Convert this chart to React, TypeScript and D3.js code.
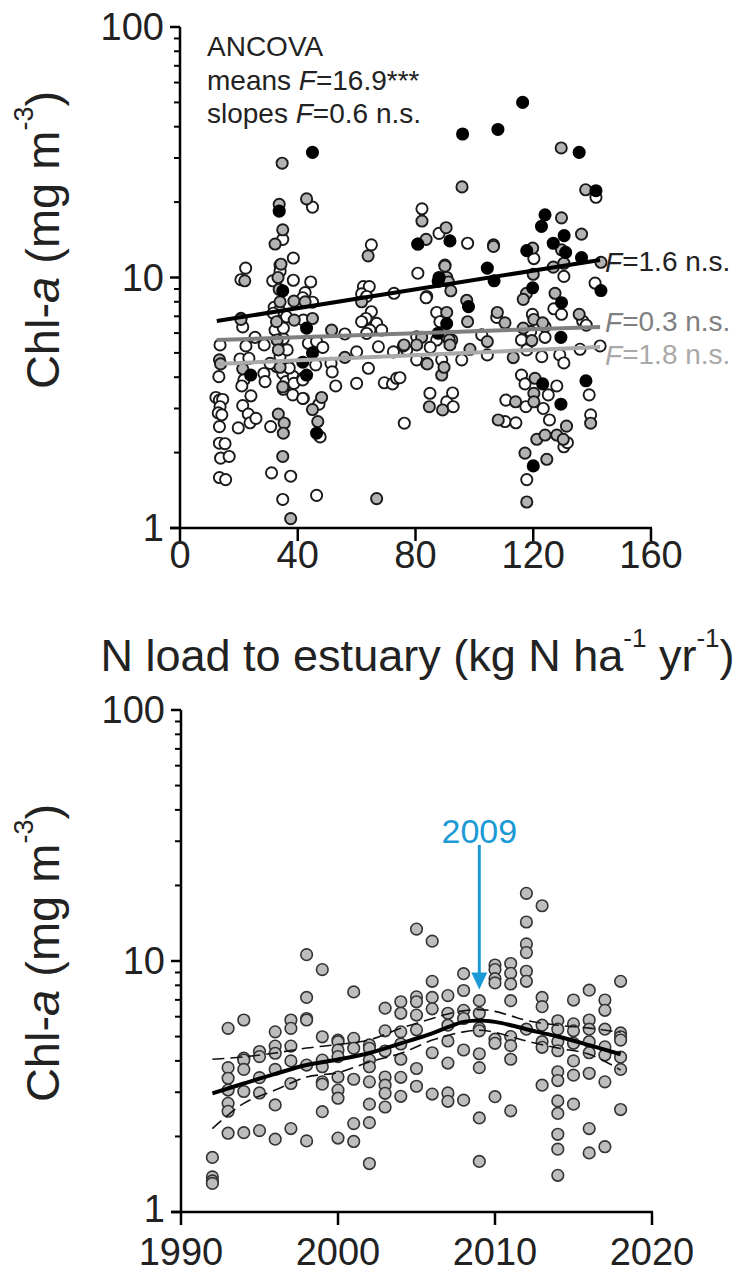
import React from 'react';
import * as d3 from 'd3';

const W = 740;
const H = 1283;
const FONT = '"Liberation Sans", Arial, Helvetica, sans-serif';

// ---------- Top panel: Chl-a vs N load (three groups) ----------
const blackPts: [number, number][] = [
  [45, 31.6], [96, 37.4], [108, 39], [116.4, 50], [135.6, 31.6], [141.3, 22.2], [124, 17.8], [122.8, 16.0],
  [80.8, 13.6], [91.7, 14], [126.8, 13.7], [130.5, 14.7], [131, 12.6], [117.8, 12.8], [136.4, 12.0], [104.4, 10.9],
  [88, 10], [33.7, 18.4], [34.9, 8.85], [87.7, 9.66], [90.6, 6.55], [87.7, 5.99], [98, 7.65], [106.7, 9.7],
  [119.8, 9.1], [129.6, 7.93], [143, 8.87], [43, 6.28], [45, 5.0], [41.7, 4.59], [43, 4.08], [24, 4.08],
  [46.4, 2.39], [129.4, 5.77], [123.2, 3.76], [129.4, 3.12], [137.9, 3.87], [120, 1.77],
];
const grayPts: [number, number][] = [
  [34.7, 28.6], [95.8, 23], [33.7, 19.6], [43, 20.6], [82.2, 16.8], [34.9, 15.5], [32.3, 13.6], [34.3, 11.3],
  [63.9, 12.2], [83.6, 14.2], [90.4, 15.8], [90, 11.2], [129.5, 32.9], [137.8, 22.4], [129.6, 17.3], [136.4, 14.9],
  [106.5, 13.5], [106.5, 13.3], [129.6, 12.9], [119.8, 13.1], [143, 11.5], [90.6, 10], [126.8, 11.0], [130.4, 11.4],
  [120, 10.3], [22, 9.7], [33.3, 10], [33.7, 8.97], [38.7, 8.05], [42.5, 8.0], [34, 8.0], [38.8, 6.76],
  [45, 6.86], [61.7, 8.0], [90, 11.1], [91.2, 9.6], [92, 8.85], [90.6, 7.25], [90.6, 5.8], [97.4, 8.1],
  [97.7, 6.66], [82.1, 5.77], [75.9, 5.33], [83.8, 4.54], [51.5, 6.17], [13.4, 4.69], [13.8, 4.52], [20.7, 6.8],
  [21.3, 4.32], [33, 5.63], [33.4, 5.14], [34, 4.38], [34.9, 3.66], [32.8, 6.66], [34.9, 1.93], [37.6, 1.09],
  [66.8, 1.31], [33.4, 2.85], [35.4, 2.62], [35.1, 2.39], [45, 2.97], [48.1, 3.32], [46.8, 2.66], [117.7, 8.65],
  [116.6, 8.18], [127.4, 8.65], [107.8, 7.25], [110.4, 6.59], [120.2, 6.8], [123.2, 6.59], [116.6, 6.28], [135.6, 7.13],
  [104.4, 5.55], [98.5, 5.17], [76.1, 5.38], [80.4, 5.38], [84, 4.52], [88.9, 4.08], [89.7, 4.38], [91.5, 5.63],
  [91.7, 5.38], [113.2, 4.79], [119.5, 5.6], [120.6, 3.96], [84.7, 3.05], [89.2, 2.96], [114, 3.19], [120.2, 3.45],
  [120.2, 3.19], [108.1, 2.7], [131.3, 2.55], [121.2, 2.26], [124, 2.35], [128, 2.35], [130.2, 2.26], [139.5, 2.62],
  [117.2, 1.99], [124.6, 1.88], [117.8, 1.27], [56, 4.8],
];
const whitePts: [number, number][] = [
  [82.2, 18.8], [45, 19.1], [34.9, 14.2], [38.5, 11.96], [22.3, 10.9], [65, 13.5], [80.8, 13.6], [88, 15.0],
  [97.7, 13.7], [80.8, 10.4], [141.3, 20.9], [120.2, 11.9], [130.4, 10.1], [20.7, 9.8], [34, 11.2], [34, 10.6],
  [31.5, 9.7], [38.5, 9.75], [44.4, 9.6], [42.5, 8.7], [41.7, 8.3], [45, 7.97], [32, 7.6], [33.7, 7.4],
  [31.7, 7.2], [36.2, 6.97], [41.9, 6.76], [62.3, 9.2], [64.3, 9.2], [61.7, 8.6], [63.4, 8.4], [72.7, 8.65],
  [83.8, 8.4], [65, 7.3], [63.2, 6.86], [61.7, 6.66], [66.8, 6.56], [64.5, 6.17], [68.5, 6.17], [63.4, 5.98],
  [67.4, 5.29], [56, 5.95], [87.2, 7.25], [88.3, 6.66], [87.2, 5.63], [92.3, 5.63], [80.4, 5.8], [77, 5.14],
  [80.4, 4.69], [72.5, 5.05], [60, 5.05], [51.3, 4.54], [51.7, 4.2], [64, 4.34], [60, 3.78], [69.4, 3.8],
  [72.2, 3.76], [73.6, 3.96], [52.9, 3.69], [76.2, 2.62], [46.4, 1.35], [31.1, 1.66], [37.6, 1.61], [34.9, 1.30],
  [13.6, 5.38], [13.2, 4.02], [12.2, 3.32], [13.4, 3.24], [14.5, 3.26], [13.6, 3.05], [13, 2.88], [14.2, 2.83],
  [13.4, 2.54], [13.4, 2.18], [15.3, 2.17], [13.8, 1.9], [16.7, 1.93], [13.4, 1.59], [15.5, 1.56], [20.7, 6.87],
  [21.3, 6.35], [25.5, 5.77], [22.4, 5.33], [20.4, 4.73], [23.4, 4.76], [21.7, 3.9], [21, 3.69], [28.6, 5.38],
  [28.5, 4.14], [28.9, 3.84], [24.1, 3.37], [21.3, 3.08], [23.2, 2.85], [23.8, 2.63], [25.8, 2.74], [19.8, 2.51],
  [30.8, 2.54], [32.3, 6.17], [35.1, 5.7], [34, 4.84], [36.4, 5.14], [34.9, 4.14], [36, 3.84], [35.1, 3.58],
  [32.8, 4.41], [36.8, 4.41], [35.1, 6.28], [38.5, 4.02], [38.7, 3.78], [41.7, 3.96], [38.3, 3.4], [41.9, 3.29],
  [37.1, 4.35], [30.6, 4.54], [43.6, 5.46], [46.4, 5.55], [48.5, 5.26], [46.1, 4.48], [41.7, 3.9], [41.7, 3.29],
  [47.2, 3.12], [47.6, 2.31], [83.6, 8.3], [127, 7.5], [129.6, 7.13], [141, 9.5], [107.6, 6.93], [119.7, 7.13],
  [124, 6.36], [119.1, 6.08], [136.8, 6.7], [138, 6.45], [102.5, 5.9], [104.4, 4.91], [95.7, 4.69], [85, 5.26],
  [88.9, 4.69], [116, 5.63], [117.8, 5.14], [122.9, 4.83], [124, 5.77], [129, 4.91], [130.4, 4.56], [135.9, 5.17],
  [142.7, 5.33], [74.7, 3.98], [84.9, 3.45], [90.6, 3.19], [92.6, 3.46], [92.8, 3.05], [116, 4.08], [117.2, 3.76],
  [128, 3.69], [125.1, 3.4], [110.7, 3.24], [117.5, 3.05], [123.4, 3.0], [110.4, 2.66], [114.1, 2.63], [125.5, 2.7],
  [130.4, 2.11], [131.6, 2.19], [139, 3.4], [139.5, 2.83], [117.8, 1.56],
];

const fitN = [12.5, 142.7];
const fitBlack = [6.7, 11.75];
const fitDark = [5.63, 6.35];
const fitLight = [4.52, 5.28];

const xTicksTop = [0, 40, 80, 120, 160];
const yMajor = [1, 10, 100];

// ---------- Bottom panel: Chl-a by year ----------
const years = [1992, 1993, 1994, 1995, 1996, 1997, 1998, 1999, 2000, 2001, 2002, 2003, 2004, 2005,
  2006, 2007, 2008, 2009, 2010, 2011, 2012, 2013, 2014, 2015, 2016, 2017, 2018];
const chlByYear: number[][] = [
  [1.65, 1.38, 1.33, 1.30],
  [5.39, 3.76, 3.41, 3.06, 2.71, 2.52, 2.06],
  [5.82, 4.1, 4.03, 3.7, 3.02, 2.07],
  [4.36, 4.16, 3.43, 2.98, 2.11],
  [5.22, 4.58, 4.29, 3.7, 2.67, 1.95],
  [5.82, 5.39, 4.58, 4.0, 3.25, 2.15],
  [10.6, 7.16, 5.9, 5.82, 3.85, 1.92],
  [9.24, 4.99, 4.03, 3.79, 3.3, 3.23, 2.51],
  [4.84, 4.77, 4.42, 4.16, 3.45, 3.06, 2.84, 1.97],
  [7.53, 4.92, 4.49, 3.38, 2.25, 1.91],
  [4.63, 4.49, 4.03, 3.79, 3.3, 2.69, 2.27, 1.56],
  [6.49, 5.27, 4.38, 3.45, 3.2, 2.97, 2.62],
  [6.88, 6.19, 5.22, 4.67, 4.06, 3.44, 2.89],
  [13.4, 7.2, 6.88, 6.09, 5.32, 3.73, 3.17],
  [12.0, 8.3, 7.16, 6.45, 4.31, 2.95],
  [7.28, 6.19, 5.55, 4.8, 3.92, 2.98, 2.76],
  [8.9, 7.63, 6.36, 5.9, 4.42, 2.79],
  [6.95, 6.19, 5.39, 5.27, 4.27, 3.76, 2.37, 1.59],
  [9.64, 9.24, 8.5, 8.18, 4.88, 4.7, 2.88],
  [9.77, 8.93, 8.1, 6.95, 5.0, 4.6, 4.06, 2.53],
  [18.6, 14.3, 11.7, 10.8, 9.1, 8.3, 5.35],
  [16.6, 7.16, 6.58, 5.55, 4.77, 4.53, 3.2],
  [5.78, 5.35, 4.77, 4.39, 3.62, 3.34, 2.77, 2.47, 2.04, 1.78, 1.40],
  [6.99, 5.62, 5.27, 4.7, 4.0, 3.51, 2.69],
  [7.65, 5.82, 5.35, 4.77, 4.31, 3.57, 2.15, 1.72],
  [6.99, 6.36, 5.35, 4.55, 4.22, 3.3, 1.82],
  [8.3, 5.17, 4.99, 4.84, 4.14, 3.7, 2.56],
];

const trendYears = [1992, 1994, 1996, 1998, 2000, 2002, 2004, 2006, 2007, 2008, 2009, 2010, 2011, 2012, 2014, 2016, 2018];
const trendFit = [2.97, 3.25, 3.55, 3.85, 4.05, 4.3, 4.7, 5.15, 5.45, 5.72, 5.8, 5.72, 5.55, 5.35, 5.0, 4.62, 4.25];
const trendUpper = [4.06, 4.15, 4.3, 4.5, 4.65, 4.85, 5.4, 5.9, 6.15, 6.33, 6.4, 6.3, 6.05, 5.8, 5.55, 5.4, 5.2];
const trendLower = [2.15, 2.71, 3.06, 3.45, 3.59, 3.96, 4.29, 4.84, 5.05, 5.22, 5.3, 5.2, 5.0, 4.8, 4.5, 4.25, 3.68];

const xTicksBottom = [1990, 2000, 2010, 2020];
const arrowYear = 2009;
const arrowLabelChl = 33;
const arrowStartChl = 29;
const arrowTipChl = 7.7;

const BLUE = '#1b9ad6';
const DARKGRAY = '#7f7f7f';
const LIGHTGRAY = '#a9a9a9';

function minorTicks(): number[] {
  const out: number[] = [];
  [1, 10].forEach((d) => {
    for (let k = 2; k <= 9; k++) out.push(d * k);
  });
  return out;
}

function YLabel({ x, y }: { x: number; y: number }) {
  return (
    <text
      transform={`translate(${x},${y}) rotate(-90)`}
      textAnchor="middle"
      dominantBaseline="central"
      fontSize={47}
      fontFamily={FONT}
      fill="#222"
    >
      Chl-<tspan fontStyle="italic">a</tspan> (mg m
      <tspan fontSize={27} dy={-18}>-3</tspan>
      <tspan dy={18}>)</tspan>
    </text>
  );
}

function LogYAxis({ x0, y, labelDy }: { x0: number; y: d3.ScaleLogarithmic<number, number>; labelDy: number }) {
  const [r0, r1] = y.range();
  return (
    <g>
      <line x1={x0} x2={x0} y1={r0} y2={r1} stroke="#000" strokeWidth={2.5} />
      {minorTicks().map((t) => (
        <line key={'m' + t} x1={x0 - 6} x2={x0} y1={y(t)} y2={y(t)} stroke="#000" strokeWidth={2} />
      ))}
      {yMajor.map((t) => (
        <g key={'M' + t}>
          <line x1={x0 - 10} x2={x0} y1={y(t)} y2={y(t)} stroke="#000" strokeWidth={2.5} />
          <text
            x={x0 - 16}
            y={y(t) + (t === 1 ? labelDy : 0)}
            textAnchor="end"
            dominantBaseline="central"
            fontSize={38}
            fontFamily={FONT}
            fill="#222"
          >
            {t}
          </text>
        </g>
      ))}
    </g>
  );
}

function XAxis({
  x,
  y0,
  ticks,
  labelOffset,
}: {
  x: d3.ScaleLinear<number, number>;
  y0: number;
  ticks: number[];
  labelOffset: number;
}) {
  const [r0, r1] = x.range();
  return (
    <g>
      <line x1={r0 - 10} x2={r1 + 1} y1={y0} y2={y0} stroke="#000" strokeWidth={2.5} />
      {ticks.map((t) => (
        <g key={t}>
          <line x1={x(t)} x2={x(t)} y1={y0} y2={y0 + 13} stroke="#000" strokeWidth={2.5} />
          <text
            x={x(t)}
            y={y0 + labelOffset}
            textAnchor="middle"
            dominantBaseline="central"
            fontSize={38}
            fontFamily={FONT}
            fill="#222"
          >
            {t}
          </text>
        </g>
      ))}
    </g>
  );
}

export default function App() {
  // top scales
  const xT = d3.scaleLinear().domain([0, 160]).range([180, 651]);
  const yT = d3.scaleLog().domain([1, 100]).range([528, 27]);
  // bottom scales
  const xB = d3.scaleLinear().domain([1990, 2020]).range([181, 652]);
  const yB = d3.scaleLog().domain([1, 100]).range([1212, 710]);

  const fitLine = (vals: number[]) =>
    d3.line<number>().x((_, i) => xT(fitN[i])).y((v) => yT(v))(vals) as string;

  const trendLine = (vals: number[]) =>
    d3
      .line<number>()
      .x((_, i) => xB(trendYears[i]))
      .y((v) => yB(v))
      .curve(d3.curveCatmullRom.alpha(0.5))(vals) as string;

  const bottomPts: [number, number][] = [];
  years.forEach((yr, i) => chlByYear[i].forEach((v) => bottomPts.push([yr, v])));

  const pt = (d: [number, number], fill: string, stroke: string, key: string) => (
    <circle key={key} cx={xT(d[0])} cy={yT(d[1])} r={5.6} fill={fill} stroke={stroke} strokeWidth={1.9} />
  );

  const ax = xB(arrowYear);
  const tipY = yB(arrowTipChl);

  return (
    <svg
      width={W}
      height={H}
      viewBox={`0 0 ${W} ${H}`}
      style={{ position: 'absolute', left: 0, top: 0, display: 'block', background: '#fff' }}
    >
      <rect x={0} y={0} width={W} height={H} fill="#fff" />

      {/* ---------- Top panel ---------- */}
      <YLabel x={42} y={240} />
      <LogYAxis x0={180} y={yT} labelDy={0} />
      <XAxis x={xT} y0={528} ticks={xTicksTop} labelOffset={27} />

      {whitePts.map((d, i) => pt(d, '#ffffff', '#1a1a1a', 'w' + i))}
      {grayPts.map((d, i) => pt(d, '#b3b3b3', '#1a1a1a', 'g' + i))}
      {blackPts.map((d, i) => pt(d, '#000000', '#000000', 'b' + i))}

      <path d={fitLine(fitLight)} stroke={LIGHTGRAY} strokeWidth={4} fill="none" />
      <path d={fitLine(fitDark)} stroke={DARKGRAY} strokeWidth={4} fill="none" />
      <path d={fitLine(fitBlack)} stroke="#000" strokeWidth={4} fill="none" />

      <g fontFamily={FONT} fontSize={28} fill="#222">
        <text x={207} y={46} dominantBaseline="central">ANCOVA</text>
        <text x={207} y={80} dominantBaseline="central">
          means <tspan fontStyle="italic">F</tspan>=16.9***
        </text>
        <text x={207} y={113} dominantBaseline="central">
          slopes <tspan fontStyle="italic">F</tspan>=0.6 n.s.
        </text>
      </g>
      <g fontFamily={FONT} fontSize={28}>
        <text x={xT(fitN[1]) + 5} y={yT(fitBlack[1]) + 2} dominantBaseline="central" fill="#222">
          <tspan fontStyle="italic">F</tspan>=1.6 n.s.
        </text>
        <text x={xT(fitN[1]) + 5} y={yT(fitDark[1]) - 5} dominantBaseline="central" fill={DARKGRAY}>
          <tspan fontStyle="italic">F</tspan>=0.3 n.s.
        </text>
        <text x={xT(fitN[1]) + 5} y={yT(fitLight[1]) + 8} dominantBaseline="central" fill={LIGHTGRAY}>
          <tspan fontStyle="italic">F</tspan>=1.8 n.s.
        </text>
      </g>

      <text
        x={(xT.range()[0] + xT.range()[1]) / 2 + 2}
        y={655}
        textAnchor="middle"
        dominantBaseline="central"
        fontSize={45}
        fontFamily={FONT}
        fill="#222"
      >
        N load to estuary (kg N ha
        <tspan fontSize={26} dy={-17}>-1</tspan>
        <tspan dy={17}> yr</tspan>
        <tspan fontSize={26} dy={-17}>-1</tspan>
        <tspan dy={17}>)</tspan>
      </text>

      {/* ---------- Bottom panel ---------- */}
      <YLabel x={42} y={953} />
      <LogYAxis x0={181} y={yB} labelDy={-3} />
      <XAxis x={xB} y0={1212} ticks={xTicksBottom} labelOffset={40} />

      {bottomPts.map((d, i) => (
        <circle key={'p' + i} cx={xB(d[0])} cy={yB(d[1])} r={5.8} fill="#bdbdbd" stroke="#333" strokeWidth={1.6} />
      ))}

      <path d={trendLine(trendUpper)} stroke="#111" strokeWidth={1.6} fill="none" strokeDasharray="12,6" />
      <path d={trendLine(trendLower)} stroke="#111" strokeWidth={1.6} fill="none" strokeDasharray="12,6" />
      <path d={trendLine(trendFit)} stroke="#000" strokeWidth={4} fill="none" />

      <text
        x={ax}
        y={yB(arrowLabelChl)}
        textAnchor="middle"
        dominantBaseline="central"
        fontSize={34}
        fontFamily={FONT}
        fill={BLUE}
      >
        {arrowYear}
      </text>
      <line x1={ax} x2={ax} y1={yB(arrowStartChl)} y2={tipY - 12} stroke={BLUE} strokeWidth={3} />
      <path d={`M${ax - 8},${tipY - 17} L${ax + 8},${tipY - 17} L${ax},${tipY} Z`} fill={BLUE} />
    </svg>
  );
}
